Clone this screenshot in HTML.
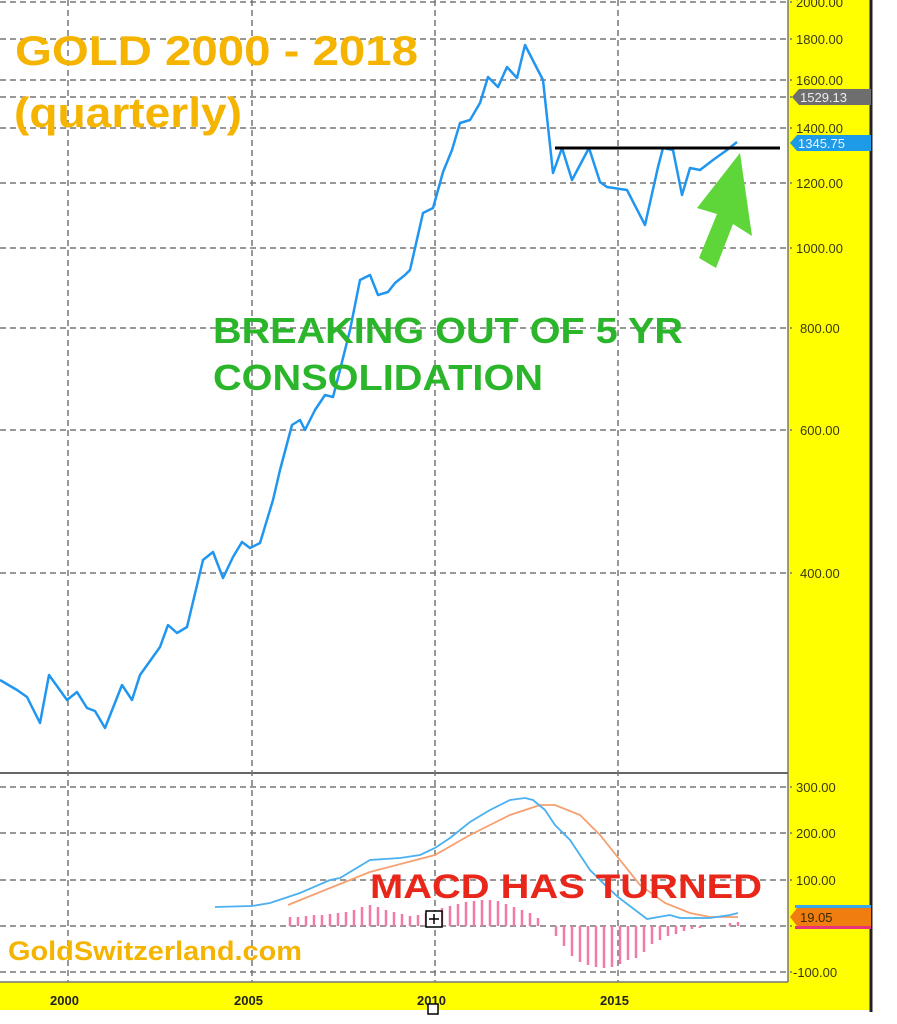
<!DOCTYPE html>
<html><head><meta charset="utf-8"><style>
body{margin:0;background:#fff;}
svg{display:block;}
.ax{font-family:"Liberation Sans",sans-serif;font-size:13px;fill:#3a3a10;}
</style></head><body>
<svg width="897" height="1024" viewBox="0 0 897 1024" xmlns="http://www.w3.org/2000/svg">
<rect x="0" y="0" width="897" height="1024" fill="#fff"/>
<rect x="788" y="0" width="84" height="1010" fill="#ffff00"/>
<rect x="0" y="982" width="872" height="28" fill="#ffff00"/>
<line x1="871" y1="0" x2="871" y2="1012" stroke="#222" stroke-width="3"/>
<line x1="788" y1="0" x2="788" y2="982" stroke="#777" stroke-width="1.5"/>
<line x1="0" y1="773" x2="788" y2="773" stroke="#666" stroke-width="2"/>
<line x1="0" y1="982" x2="788" y2="982" stroke="#777" stroke-width="1.5"/>
<g stroke="#777" stroke-width="1.5" stroke-dasharray="6,4" fill="none">
<line x1="68" y1="0" x2="68" y2="982"/><line x1="252" y1="0" x2="252" y2="982"/>
<line x1="435" y1="0" x2="435" y2="982"/><line x1="618" y1="0" x2="618" y2="982"/>
<line x1="0" y1="2" x2="792" y2="2"/><line x1="0" y1="39" x2="792" y2="39"/>
<line x1="0" y1="80" x2="792" y2="80"/><line x1="0" y1="97" x2="792" y2="97"/>
<line x1="0" y1="128" x2="792" y2="128"/><line x1="0" y1="183" x2="792" y2="183"/>
<line x1="0" y1="248" x2="792" y2="248"/><line x1="0" y1="328" x2="792" y2="328"/>
<line x1="0" y1="430" x2="792" y2="430"/><line x1="0" y1="573" x2="792" y2="573"/>
<line x1="0" y1="787" x2="792" y2="787"/><line x1="0" y1="833" x2="792" y2="833"/>
<line x1="0" y1="880" x2="792" y2="880"/><line x1="0" y1="926" x2="792" y2="926"/>
<line x1="0" y1="972" x2="792" y2="972"/>
</g>
<g class="ax">
<text x="796" y="7">2000.00</text><text x="796" y="44">1800.00</text>
<text x="796" y="85">1600.00</text><text x="796" y="133">1400.00</text>
<text x="796" y="188">1200.00</text><text x="796" y="253">1000.00</text>
<text x="800" y="333">800.00</text><text x="800" y="435">600.00</text>
<text x="800" y="578">400.00</text>
<text x="796" y="792">300.00</text><text x="796" y="838">200.00</text>
<text x="796" y="885">100.00</text><text x="793" y="977">-100.00</text>
</g>
<polygon points="792,97 799,89 871,89 871,105 799,105" fill="#6e6e6e"/>
<text x="800" y="102" font-family="Liberation Sans,sans-serif" font-size="13" fill="#eee">1529.13</text>
<polygon points="790,143 797,135 871,135 871,151 797,151" fill="#1e9be8"/>
<text x="798" y="148" font-family="Liberation Sans,sans-serif" font-size="13" fill="#e8f4ff">1345.75</text>
<rect x="795" y="905" width="76" height="3" fill="#3aa8e8"/>
<polygon points="790,917 797,908 871,908 871,926 797,926" fill="#f07d10"/>
<rect x="795" y="926" width="76" height="3" fill="#e8327a"/>
<text x="800" y="922" font-family="Liberation Sans,sans-serif" font-size="13" fill="#3a2a00">19.05</text>
<g font-family="Liberation Sans,sans-serif" font-size="13" font-weight="bold" fill="#222">
<text x="50" y="1005">2000</text><text x="234" y="1005">2005</text><text x="417" y="1005">2010</text><text x="600" y="1005">2015</text>
</g>
<polyline fill="none" stroke="#2196f0" stroke-width="2.5" stroke-linejoin="round" points="0,680 17,690 27,697 40,723 49,675 67,700 77,692 87,708 95,711 105,728 122,685 132,700 140,675 160,647 168,625 177,633 187,627 203,560 213,552 223,578 233,557 242,542 250,548 260,543 273,500 280,470 292,425 300,420 305,430 315,410 325,395 333,397 340,370 350,330 360,280 370,275 378,295 388,292 395,283 405,275 410,270 423,213 433,208 440,183 443,172 452,150 460,123 470,120 480,103 488,77 498,87 507,67 517,78 525,45 543,80 553,173 562,148 572,180 589,148 600,182 607,187 627,190 645,225 658,167 663,148 673,150 682,195 690,168 700,170 713,160 727,150 737,142"/>
<line x1="555" y1="148" x2="780" y2="148" stroke="#000" stroke-width="3"/>
<polygon points="740,153 752,236 733,224 716,268 699,258 717,214 697,208" fill="#5ed63a"/>
<g stroke="#f07aa8" stroke-width="2.5">
<line x1="290" y1="926" x2="290" y2="917"/><line x1="298" y1="926" x2="298" y2="917"/><line x1="306" y1="926" x2="306" y2="916"/><line x1="314" y1="926" x2="314" y2="915"/><line x1="322" y1="926" x2="322" y2="915"/><line x1="330" y1="926" x2="330" y2="914"/><line x1="338" y1="926" x2="338" y2="913"/><line x1="346" y1="926" x2="346" y2="912"/><line x1="354" y1="926" x2="354" y2="910"/><line x1="362" y1="926" x2="362" y2="907"/><line x1="370" y1="926" x2="370" y2="905"/><line x1="378" y1="926" x2="378" y2="907"/><line x1="386" y1="926" x2="386" y2="910"/><line x1="394" y1="926" x2="394" y2="912"/><line x1="402" y1="926" x2="402" y2="914"/><line x1="410" y1="926" x2="410" y2="916"/><line x1="418" y1="926" x2="418" y2="915"/><line x1="426" y1="926" x2="426" y2="913"/><line x1="442" y1="926" x2="442" y2="908"/><line x1="450" y1="926" x2="450" y2="906"/><line x1="458" y1="926" x2="458" y2="904"/><line x1="466" y1="926" x2="466" y2="902"/><line x1="474" y1="926" x2="474" y2="901"/><line x1="482" y1="926" x2="482" y2="900"/><line x1="490" y1="926" x2="490" y2="900"/><line x1="498" y1="926" x2="498" y2="901"/><line x1="506" y1="926" x2="506" y2="904"/><line x1="514" y1="926" x2="514" y2="907"/><line x1="522" y1="926" x2="522" y2="910"/><line x1="530" y1="926" x2="530" y2="913"/><line x1="538" y1="926" x2="538" y2="918"/>
<line x1="556" y1="926" x2="556" y2="936"/><line x1="564" y1="926" x2="564" y2="946"/><line x1="572" y1="926" x2="572" y2="956"/><line x1="580" y1="926" x2="580" y2="962"/><line x1="588" y1="926" x2="588" y2="965"/><line x1="596" y1="926" x2="596" y2="967"/><line x1="604" y1="926" x2="604" y2="968"/><line x1="612" y1="926" x2="612" y2="967"/><line x1="620" y1="926" x2="620" y2="964"/><line x1="628" y1="926" x2="628" y2="960"/><line x1="636" y1="926" x2="636" y2="958"/><line x1="644" y1="926" x2="644" y2="952"/><line x1="652" y1="926" x2="652" y2="944"/><line x1="660" y1="926" x2="660" y2="940"/><line x1="668" y1="926" x2="668" y2="936"/><line x1="676" y1="926" x2="676" y2="934"/><line x1="684" y1="926" x2="684" y2="931"/><line x1="692" y1="926" x2="692" y2="929"/><line x1="700" y1="926" x2="700" y2="928"/><line x1="730" y1="926" x2="730" y2="923"/><line x1="738" y1="926" x2="738" y2="922"/>
</g>
<polyline fill="none" stroke="#f5a070" stroke-width="1.8" points="288,905 330,888 370,872 435,855 470,835 510,815 540,805 555,805 580,815 600,835 620,860 640,885 665,903 690,913 710,917 738,917"/>
<polyline fill="none" stroke="#4ab0f0" stroke-width="1.8" points="215,907 252,906 270,903 300,893 330,880 340,878 370,860 400,858 420,855 435,848 450,838 470,822 490,810 510,800 525,798 533,800 545,810 555,825 570,840 590,870 605,885 618,897 647,919 670,915 680,918 710,918 730,915 738,913"/>
<rect x="426" y="911" width="16" height="16" fill="#fff" stroke="#000" stroke-width="1.5"/>
<path d="M434 914v10M429 919h10" stroke="#000" stroke-width="1.5"/>
<rect x="428" y="1004" width="10" height="10" fill="#fff" stroke="#000" stroke-width="1.5"/>
<g font-family="Liberation Sans,sans-serif" font-weight="bold" lengthAdjust="spacingAndGlyphs">
<text x="15" y="65" font-size="42" fill="#f5b400" textLength="403" lengthAdjust="spacingAndGlyphs">GOLD 2000 - 2018</text>
<text x="14" y="127" font-size="42" fill="#f5b400" textLength="228" lengthAdjust="spacingAndGlyphs">(quarterly)</text>
<text x="213" y="343" font-size="36" fill="#2bb52b" textLength="470" lengthAdjust="spacingAndGlyphs">BREAKING OUT OF 5 YR</text>
<text x="213" y="390" font-size="36" fill="#2bb52b" textLength="330" lengthAdjust="spacingAndGlyphs">CONSOLIDATION</text>
<text x="370" y="898" font-size="34" fill="#e8261a" textLength="392" lengthAdjust="spacingAndGlyphs">MACD HAS TURNED</text>
<text x="8" y="960" font-size="27" fill="#f5b400" textLength="294" lengthAdjust="spacingAndGlyphs">GoldSwitzerland.com</text>
</g>
</svg>
</body></html>
